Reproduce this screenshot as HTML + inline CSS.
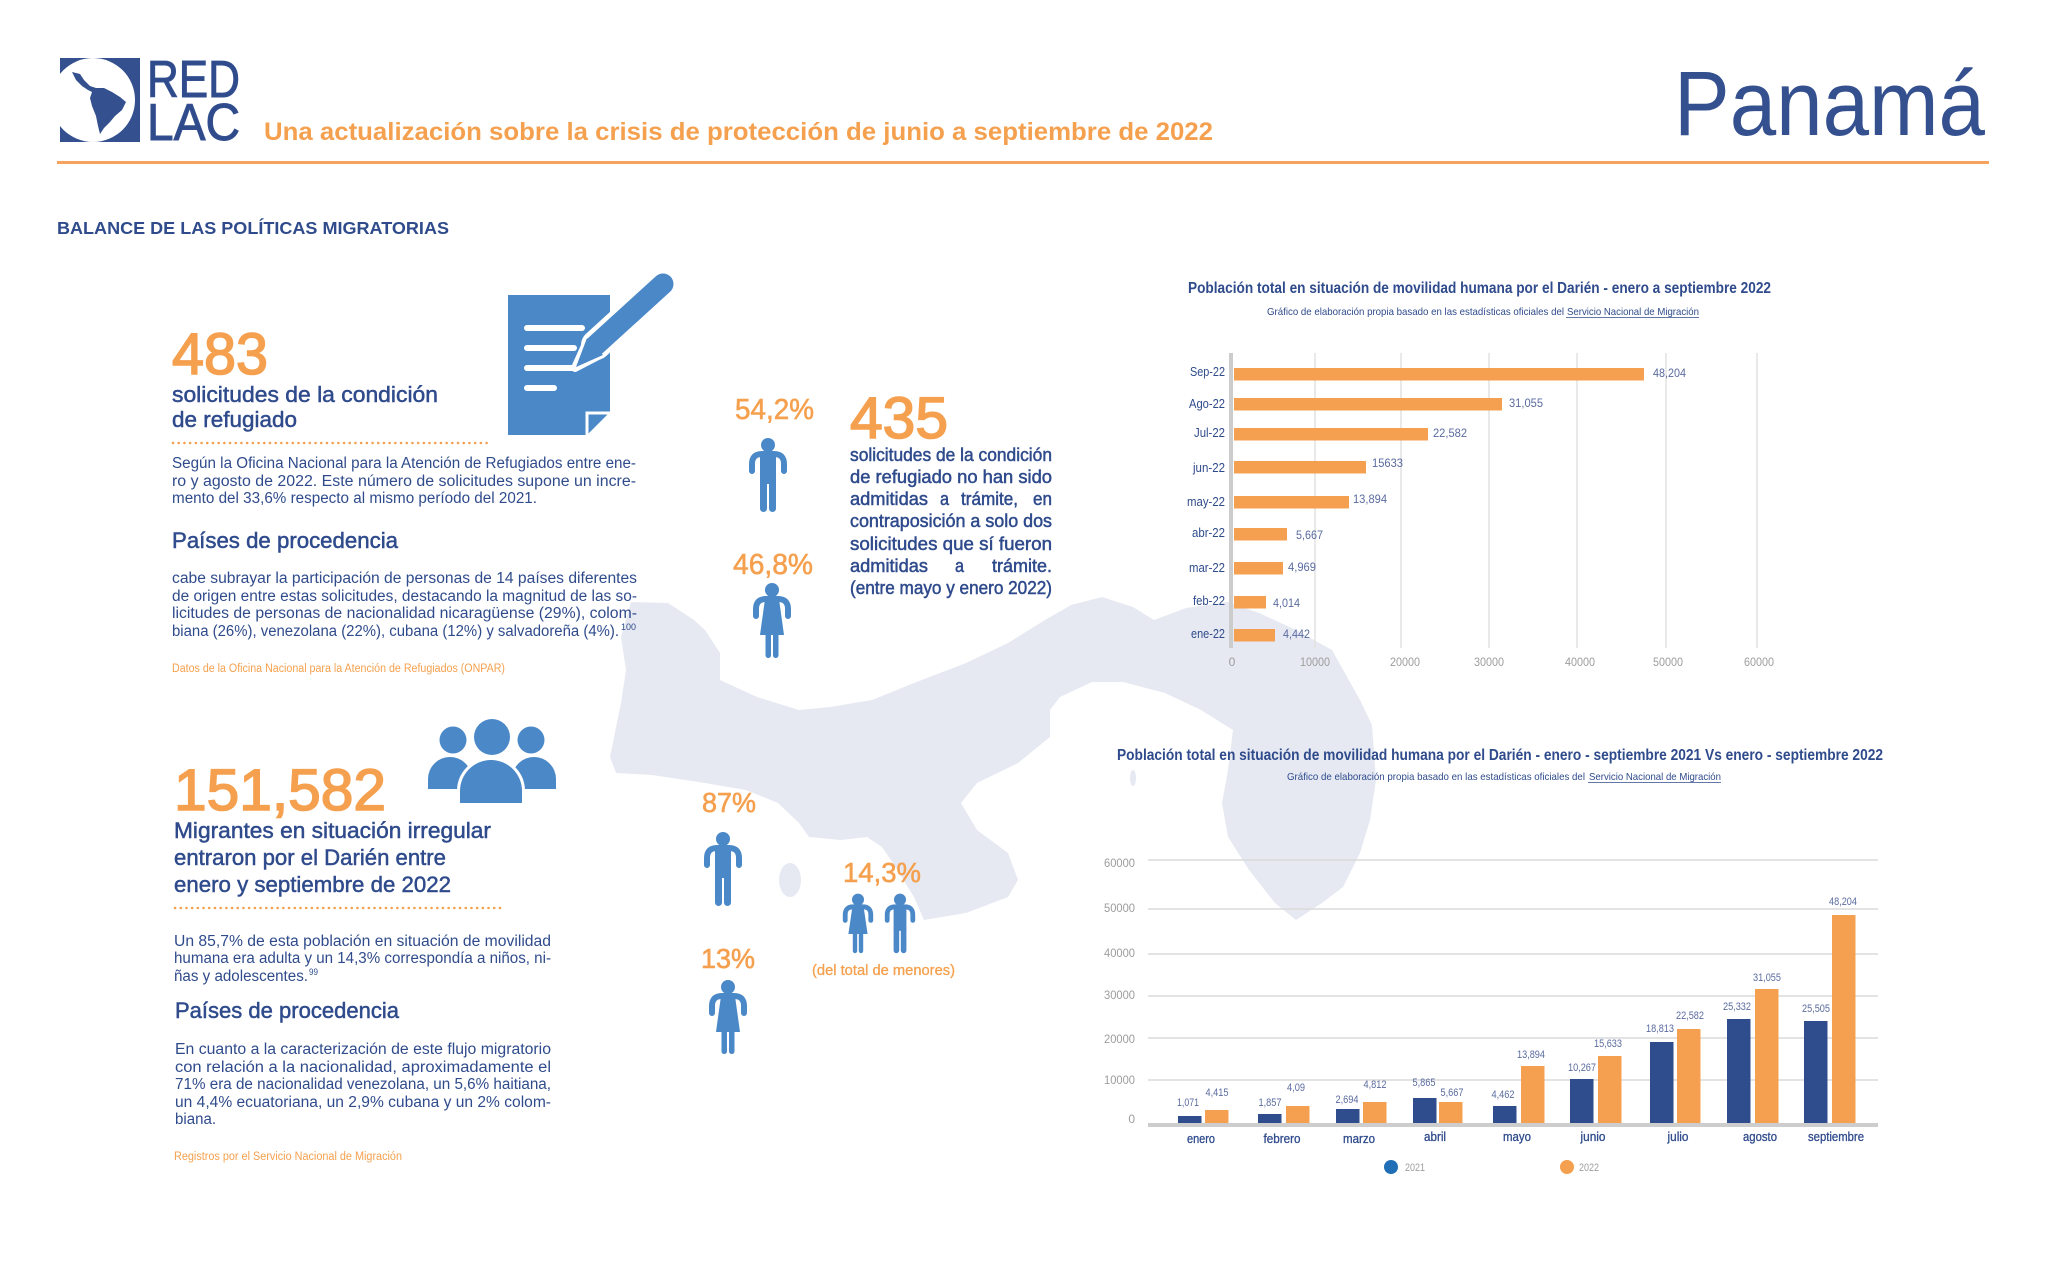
<!DOCTYPE html>
<html><head><meta charset="utf-8"><style>
html,body{margin:0;padding:0;background:#fff;}
svg{display:block}
text{font-family:"Liberation Sans",sans-serif;}
.b{fill:#2f4b8c}
.bm{fill:#2f4b8c;stroke:#2f4b8c;stroke-width:.5}
.o{fill:#f5a04e}
.op{fill:#f5a04e;stroke:#f5a04e;stroke-width:.6}
.om{fill:#f5a04e;stroke:#f5a04e;stroke-width:1.6}
.v{fill:#5a6b9f}
.g{fill:#9d9d9d}
.ic{fill:#4a88c8}
</style></head><body>
<svg width="2048" height="1274" viewBox="0 0 2048 1274" xmlns="http://www.w3.org/2000/svg">
<rect width="2048" height="1274" fill="#fff"/>

<!-- Map silhouette -->
<path fill="#e6e9f2" d="M631,602 L668,603 L694,620 L705,630 L720,653 L720,680 L757,697 L799,710 L830,707 L872,700 L914,683 L966,663 L1008,643 L1045,620 L1071,605 L1102,597 L1133,607 L1154,620 L1186,608 L1228,602 L1259,613 L1296,630 L1332,650 L1360,700 L1372,725 L1376,780 L1370,820 L1360,853 L1343,887 L1322,903 L1296,920 L1275,903 L1249,870 L1228,837 L1222,803 L1228,770 L1233,730 L1201,710 L1165,693 L1123,682 L1092,682 L1060,697 L1050,710 L1050,737 L1018,763 L977,783 L961,803 L977,830 L1008,853 L1018,880 L1008,897 L966,913 L924,920 L914,897 L893,863 L882,847 L867,837 L841,840 L809,837 L799,823 L778,803 L746,790 L705,783 L652,775 L616,773 L610,757 L621,703 L626,670 L621,637 Z"/>
<ellipse cx="790" cy="880" rx="11" ry="17" fill="#e6e9f2"/>
<ellipse cx="1133" cy="778" rx="3" ry="8" fill="#e6e9f2"/>

<!-- Header -->
<rect x="60" y="58" width="80" height="84" fill="#34508f"/>
<circle cx="93" cy="100" r="42" fill="#fff"/>
<rect x="40" y="40" width="17" height="110" fill="#fff"/>
<path fill="#34508f" d="M72,72 L80,74 L84,80 L90,86 L96,88 L104,88 L112,92 L120,97 L126,102 L122,110 L115,116 L110,122 L104,128 L100,134 L98,126 L96,116 L92,106 L90,98 L92,92 L88,90 L82,86 L76,80 Z"/>
<text x="147" y="97" font-size="52" textLength="93" lengthAdjust="spacingAndGlyphs" class="b" style="stroke:#34508f;stroke-width:1">RED</text>
<text x="147" y="140" font-size="52" textLength="93" lengthAdjust="spacingAndGlyphs" class="b" style="stroke:#34508f;stroke-width:1">LAC</text>
<text x="264" y="140" font-size="25" font-weight="bold" textLength="949" lengthAdjust="spacingAndGlyphs" class="o">Una actualización sobre la crisis de protección de junio a septiembre de 2022</text>
<text x="1674" y="135" font-size="92" textLength="311" lengthAdjust="spacingAndGlyphs" fill="#34508f">Panamá</text>
<rect x="57" y="161" width="1932" height="3" fill="#f6a35f"/>
<text x="57" y="234" font-size="17.5" font-weight="bold" textLength="392" lengthAdjust="spacingAndGlyphs" class="b">BALANCE DE LAS POLÍTICAS MIGRATORIAS</text>

<!-- Block 1 -->
<text x="172" y="374" font-size="58" textLength="96" lengthAdjust="spacingAndGlyphs" class="om">483</text>
<text x="172" y="402" font-size="22" textLength="266" lengthAdjust="spacingAndGlyphs" class="bm">solicitudes de la condición</text>
<text x="172" y="427" font-size="22" textLength="125" lengthAdjust="spacingAndGlyphs" class="bm">de refugiado</text>
<line x1="173" y1="443" x2="490" y2="443" stroke="#f5a04e" stroke-width="2.5" stroke-dasharray="0.1 5.6" stroke-linecap="round"/>
<text x="172" y="468" font-size="15.5" textLength="464" lengthAdjust="spacingAndGlyphs" class="b">Según la Oficina Nacional para la Atención de Refugiados entre ene-</text>
<text x="172" y="486" font-size="15.5" textLength="464" lengthAdjust="spacingAndGlyphs" class="b">ro y agosto de 2022. Este número de solicitudes supone un incre-</text>
<text x="172" y="503" font-size="15.5" textLength="365" lengthAdjust="spacingAndGlyphs" class="b">mento del 33,6% respecto al mismo período del 2021.</text>
<text x="172" y="548" font-size="22" textLength="226" lengthAdjust="spacingAndGlyphs" class="bm">Países de procedencia</text>
<text x="172" y="583" font-size="15.5" textLength="465" lengthAdjust="spacingAndGlyphs" class="b">cabe subrayar la participación de personas de 14 países diferentes</text>
<text x="172" y="601" font-size="15.5" textLength="465" lengthAdjust="spacingAndGlyphs" class="b">de origen entre estas solicitudes, destacando la magnitud de las so-</text>
<text x="172" y="618" font-size="15.5" textLength="465" lengthAdjust="spacingAndGlyphs" class="b">licitudes de personas de nacionalidad nicaragüense (29%), colom-</text>
<text x="172" y="636" font-size="15.5" textLength="447" lengthAdjust="spacingAndGlyphs" class="b">biana (26%), venezolana (22%), cubana (12%) y salvadoreña (4%).</text>
<text x="621" y="630" font-size="9" textLength="15" lengthAdjust="spacingAndGlyphs" class="b">100</text>
<text x="172" y="672" font-size="11.5" textLength="333" lengthAdjust="spacingAndGlyphs" class="o">Datos de la Oficina Nacional para la Atención de Refugiados (ONPAR)</text>

<!-- Document icon -->
<path class="ic" d="M508,295 H610 V412 L587,435 H508 Z"/>
<path d="M587,436 V413 H611" fill="none" stroke="#fff" stroke-width="3"/>
<g stroke="#fff" stroke-width="6" stroke-linecap="round">
<line x1="527" y1="328" x2="582" y2="328"/>
<line x1="527" y1="348" x2="574" y2="348"/>
<line x1="527" y1="368" x2="572" y2="368"/>
<line x1="527" y1="388" x2="554" y2="388"/>
</g>
<line x1="596" y1="345" x2="663" y2="284" stroke="#fff" stroke-width="30" stroke-linecap="round"/>
<polygon points="602,354 588,339 575,368" fill="#fff" stroke="#fff" stroke-width="8" stroke-linejoin="round"/>
<line x1="596" y1="345" x2="663" y2="284" stroke="#4a88c8" stroke-width="21" stroke-linecap="round"/>
<polygon points="603,355 587,338 576,367" fill="#4a88c8"/>

<!-- Middle upper -->
<text x="735" y="419" font-size="29" textLength="79" lengthAdjust="spacingAndGlyphs" class="op">54,2%</text>
<text x="733" y="574" font-size="29" textLength="80" lengthAdjust="spacingAndGlyphs" class="op">46,8%</text>
<text x="850" y="438" font-size="58" textLength="98" lengthAdjust="spacingAndGlyphs" class="om">435</text>
<text x="850" y="461" font-size="18" textLength="202" lengthAdjust="spacingAndGlyphs" class="bm">solicitudes de la condición</text>
<text x="850" y="483" font-size="18" textLength="202" lengthAdjust="spacingAndGlyphs" class="bm">de refugiado no han sido</text>
<text x="850" y="505" font-size="18" textLength="78" lengthAdjust="spacingAndGlyphs" class="bm">admitidas</text>
<text x="940" y="505" font-size="18" textLength="9" lengthAdjust="spacingAndGlyphs" class="bm">a</text>
<text x="961" y="505" font-size="18" textLength="57" lengthAdjust="spacingAndGlyphs" class="bm">trámite,</text>
<text x="1033" y="505" font-size="18" textLength="19" lengthAdjust="spacingAndGlyphs" class="bm">en</text>
<text x="850" y="527" font-size="18" textLength="202" lengthAdjust="spacingAndGlyphs" class="bm">contraposición a solo dos</text>
<text x="850" y="550" font-size="18" textLength="202" lengthAdjust="spacingAndGlyphs" class="bm">solicitudes que sí fueron</text>
<text x="850" y="572" font-size="18" textLength="78" lengthAdjust="spacingAndGlyphs" class="bm">admitidas</text>
<text x="955" y="572" font-size="18" textLength="9" lengthAdjust="spacingAndGlyphs" class="bm">a</text>
<text x="992" y="572" font-size="18" textLength="60" lengthAdjust="spacingAndGlyphs" class="bm">trámite.</text>
<text x="850" y="594" font-size="18" textLength="202" lengthAdjust="spacingAndGlyphs" class="bm">(entre mayo y enero 2022)</text>

<!-- Man icon 1 -->
<g transform="translate(748,438)" class="ic">
<circle cx="20" cy="7" r="7"/>
<path d="M4,33 V26 Q4,16 14,16 H26 Q36,16 36,26 V33" fill="none" stroke="#4a88c8" stroke-width="6" stroke-linecap="round"/>
<rect x="12" y="16" width="16" height="30"/>
<rect x="12" y="40" width="7" height="34" rx="3.5"/>
<rect x="21" y="40" width="7" height="34" rx="3.5"/>
</g>
<!-- Woman icon 1 -->
<g transform="translate(752,583)" class="ic">
<circle cx="20" cy="7" r="7"/>
<path d="M4,33 V26 Q4,16 14,16 H26 Q36,16 36,26 V33" fill="none" stroke="#4a88c8" stroke-width="6" stroke-linecap="round"/>
<path d="M13,16 H27 L32,52 H8 Z"/>
<rect x="13.5" y="48" width="5.5" height="27" rx="2.75"/>
<rect x="21" y="48" width="5.5" height="27" rx="2.75"/>
</g>

<!-- Lower left block -->
<text x="174" y="810" font-size="58" textLength="212" lengthAdjust="spacingAndGlyphs" class="om">151,582</text>
<text x="174" y="838" font-size="22.5" textLength="317" lengthAdjust="spacingAndGlyphs" class="bm">Migrantes en situación irregular</text>
<text x="174" y="865" font-size="22.5" textLength="272" lengthAdjust="spacingAndGlyphs" class="bm">entraron por el Darién entre</text>
<text x="174" y="892" font-size="22.5" textLength="277" lengthAdjust="spacingAndGlyphs" class="bm">enero y septiembre de 2022</text>
<line x1="175" y1="908" x2="502" y2="908" stroke="#f5a04e" stroke-width="2.5" stroke-dasharray="0.1 5.6" stroke-linecap="round"/>
<text x="174" y="946" font-size="15.5" textLength="377" lengthAdjust="spacingAndGlyphs" class="b">Un 85,7% de esta población en situación de movilidad</text>
<text x="174" y="963" font-size="15.5" textLength="377" lengthAdjust="spacingAndGlyphs" class="b">humana era adulta y un 14,3% correspondía a niños, ni-</text>
<text x="174" y="981" font-size="15.5" textLength="134" lengthAdjust="spacingAndGlyphs" class="b">ñas y adolescentes.</text>
<text x="309" y="975" font-size="9" textLength="9" lengthAdjust="spacingAndGlyphs" class="b">99</text>
<text x="175" y="1018" font-size="22" textLength="224" lengthAdjust="spacingAndGlyphs" class="bm">Países de procedencia</text>
<text x="175" y="1054" font-size="15.5" textLength="376" lengthAdjust="spacingAndGlyphs" class="b">En cuanto a la caracterización de este flujo migratorio</text>
<text x="175" y="1072" font-size="15.5" textLength="376" lengthAdjust="spacingAndGlyphs" class="b">con relación a la nacionalidad, aproximadamente el</text>
<text x="175" y="1089" font-size="15.5" textLength="376" lengthAdjust="spacingAndGlyphs" class="b">71% era de nacionalidad venezolana, un 5,6% haitiana,</text>
<text x="175" y="1107" font-size="15.5" textLength="376" lengthAdjust="spacingAndGlyphs" class="b">un 4,4% ecuatoriana, un 2,9% cubana y un 2% colom-</text>
<text x="175" y="1124" font-size="15.5" textLength="41" lengthAdjust="spacingAndGlyphs" class="b">biana.</text>
<text x="174" y="1160" font-size="11.5" textLength="228" lengthAdjust="spacingAndGlyphs" class="o">Registros por el Servicio Nacional de Migración</text>

<!-- People icon -->
<g class="ic">
<path d="M428,789 V779 A22,22 0 0 1 472,779 V789 Z"/>
<path d="M512,789 V779 A22,22 0 0 1 556,779 V789 Z"/>
<path d="M460,803 V791 A31,31 0 0 1 522,791 V803 Z" stroke="#fff" stroke-width="6" paint-order="stroke"/>
<circle cx="453" cy="740" r="13.5"/>
<circle cx="531" cy="740" r="13.5"/>
<circle cx="492" cy="737" r="18"/>
</g>

<!-- Middle lower -->
<text x="702" y="812" font-size="28" textLength="54" lengthAdjust="spacingAndGlyphs" class="op">87%</text>
<text x="701" y="968" font-size="28" textLength="54" lengthAdjust="spacingAndGlyphs" class="op">13%</text>
<text x="843" y="882" font-size="28" textLength="78" lengthAdjust="spacingAndGlyphs" class="op">14,3%</text>
<text x="812" y="975" font-size="15" textLength="143" lengthAdjust="spacingAndGlyphs" class="op" style="stroke-width:.3">(del total de menores)</text>

<g transform="translate(703,832)" class="ic">
<circle cx="20" cy="7" r="7"/>
<path d="M4,33 V26 Q4,16 14,16 H26 Q36,16 36,26 V33" fill="none" stroke="#4a88c8" stroke-width="6" stroke-linecap="round"/>
<rect x="12" y="16" width="16" height="30"/>
<rect x="12" y="40" width="7" height="34" rx="3.5"/>
<rect x="21" y="40" width="7" height="34" rx="3.5"/>
</g>
<g transform="translate(708,980)" class="ic">
<circle cx="20" cy="7" r="7"/>
<path d="M4,33 V26 Q4,16 14,16 H26 Q36,16 36,26 V33" fill="none" stroke="#4a88c8" stroke-width="6" stroke-linecap="round"/>
<path d="M13,16 H27 L32,52 H8 Z"/>
<rect x="13.5" y="48" width="5.5" height="26" rx="2.75"/>
<rect x="21" y="48" width="5.5" height="26" rx="2.75"/>
</g>
<g transform="translate(842,894) scale(0.8)" class="ic">
<circle cx="20" cy="7" r="7.5"/>
<path d="M4,33 V26 Q4,16 14,16 H26 Q36,16 36,26 V33" fill="none" stroke="#4a88c8" stroke-width="6" stroke-linecap="round"/>
<path d="M13,16 H27 L32,50 H8 Z"/>
<rect x="13.5" y="46" width="5.5" height="28" rx="2.75"/>
<rect x="21" y="46" width="5.5" height="28" rx="2.75"/>
</g>
<g transform="translate(884,894) scale(0.8)" class="ic">
<circle cx="20" cy="7" r="7.5"/>
<path d="M4,33 V26 Q4,16 14,16 H26 Q36,16 36,26 V33" fill="none" stroke="#4a88c8" stroke-width="6" stroke-linecap="round"/>
<rect x="12" y="16" width="16" height="30"/>
<rect x="12" y="40" width="7" height="34" rx="3.5"/>
<rect x="21" y="40" width="7" height="34" rx="3.5"/>
</g>

<!-- Chart 1 -->
<text x="1188" y="293" font-size="15.5" font-weight="bold" textLength="583" lengthAdjust="spacingAndGlyphs" class="b">Población total en situación de movilidad humana por el Darién - enero a septiembre 2022</text>
<text x="1267" y="315" font-size="10.5" textLength="297" lengthAdjust="spacingAndGlyphs" class="b">Gráfico de elaboración propia basado en las estadísticas oficiales del</text>
<text x="1567" y="315" font-size="10.5" textLength="132" lengthAdjust="spacingAndGlyphs" class="b">Servicio Nacional de Migración</text>
<line x1="1566" y1="317.5" x2="1699" y2="317.5" stroke="#2f4b8c" stroke-width=".8"/>
<g stroke="#e2e2e2" stroke-width="1.5">
<line x1="1315" y1="353" x2="1315" y2="648"/>
<line x1="1401" y1="353" x2="1401" y2="648"/>
<line x1="1489" y1="353" x2="1489" y2="648"/>
<line x1="1577" y1="353" x2="1577" y2="648"/>
<line x1="1666" y1="353" x2="1666" y2="648"/>
<line x1="1757" y1="353" x2="1757" y2="648"/>
</g>
<line x1="1231" y1="353" x2="1231" y2="648" stroke="#cccccc" stroke-width="4"/>
<g fill="#f4a050">
<rect x="1234" y="368" width="410" height="12.5"/>
<rect x="1234" y="398" width="268" height="12.5"/>
<rect x="1234" y="428" width="194" height="12.5"/>
<rect x="1234" y="461" width="132" height="12.5"/>
<rect x="1234" y="496" width="115" height="12.5"/>
<rect x="1234" y="528" width="53" height="12.5"/>
<rect x="1234" y="562" width="49" height="12.5"/>
<rect x="1234" y="596" width="32" height="12.5"/>
<rect x="1234" y="629" width="41" height="12.5"/>
</g>
<g font-size="12.5" text-anchor="end" class="b">
<text x="1225" y="376" textLength="35" lengthAdjust="spacingAndGlyphs">Sep-22</text>
<text x="1225" y="408" textLength="36" lengthAdjust="spacingAndGlyphs">Ago-22</text>
<text x="1225" y="437" textLength="31" lengthAdjust="spacingAndGlyphs">Jul-22</text>
<text x="1225" y="472" textLength="32" lengthAdjust="spacingAndGlyphs">jun-22</text>
<text x="1225" y="506" textLength="38" lengthAdjust="spacingAndGlyphs">may-22</text>
<text x="1225" y="537" textLength="33" lengthAdjust="spacingAndGlyphs">abr-22</text>
<text x="1225" y="572" textLength="36" lengthAdjust="spacingAndGlyphs">mar-22</text>
<text x="1225" y="605" textLength="32" lengthAdjust="spacingAndGlyphs">feb-22</text>
<text x="1225" y="638" textLength="34" lengthAdjust="spacingAndGlyphs">ene-22</text>
</g>
<g font-size="12" class="v">
<text x="1653" y="377" textLength="33" lengthAdjust="spacingAndGlyphs">48,204</text>
<text x="1509" y="407" textLength="34" lengthAdjust="spacingAndGlyphs">31,055</text>
<text x="1433" y="437" textLength="34" lengthAdjust="spacingAndGlyphs">22,582</text>
<text x="1372" y="467" textLength="31" lengthAdjust="spacingAndGlyphs">15633</text>
<text x="1353" y="503" textLength="34" lengthAdjust="spacingAndGlyphs">13,894</text>
<text x="1296" y="539" textLength="27" lengthAdjust="spacingAndGlyphs">5,667</text>
<text x="1288" y="571" textLength="28" lengthAdjust="spacingAndGlyphs">4,969</text>
<text x="1273" y="607" textLength="27" lengthAdjust="spacingAndGlyphs">4,014</text>
<text x="1283" y="638" textLength="27" lengthAdjust="spacingAndGlyphs">4,442</text>
</g>
<g font-size="12" text-anchor="middle" class="g">
<text x="1232" y="666">0</text>
<text x="1315" y="666" textLength="30" lengthAdjust="spacingAndGlyphs">10000</text>
<text x="1405" y="666" textLength="30" lengthAdjust="spacingAndGlyphs">20000</text>
<text x="1489" y="666" textLength="30" lengthAdjust="spacingAndGlyphs">30000</text>
<text x="1580" y="666" textLength="30" lengthAdjust="spacingAndGlyphs">40000</text>
<text x="1668" y="666" textLength="30" lengthAdjust="spacingAndGlyphs">50000</text>
<text x="1759" y="666" textLength="30" lengthAdjust="spacingAndGlyphs">60000</text>
</g>

<!-- Chart 2 -->
<text x="1117" y="760" font-size="15.5" font-weight="bold" textLength="766" lengthAdjust="spacingAndGlyphs" class="b">Población total en situación de movilidad humana por el Darién - enero - septiembre 2021 Vs enero - septiembre 2022</text>
<text x="1287" y="780" font-size="10.5" textLength="298" lengthAdjust="spacingAndGlyphs" class="b">Gráfico de elaboración propia basado en las estadísticas oficiales del</text>
<text x="1589" y="780" font-size="10.5" textLength="132" lengthAdjust="spacingAndGlyphs" class="b">Servicio Nacional de Migración</text>
<line x1="1588" y1="782.5" x2="1721" y2="782.5" stroke="#2f4b8c" stroke-width=".8"/>
<g stroke="#dadada" stroke-width="1.5">
<line x1="1148" y1="860" x2="1878" y2="860"/>
<line x1="1148" y1="909" x2="1878" y2="909"/>
<line x1="1148" y1="954" x2="1878" y2="954"/>
<line x1="1148" y1="996" x2="1878" y2="996"/>
<line x1="1148" y1="1038" x2="1878" y2="1038"/>
<line x1="1148" y1="1080" x2="1878" y2="1080"/>
</g>
<g font-size="12" text-anchor="end" class="g">
<text x="1135" y="867" textLength="31" lengthAdjust="spacingAndGlyphs">60000</text>
<text x="1135" y="912" textLength="31" lengthAdjust="spacingAndGlyphs">50000</text>
<text x="1135" y="957" textLength="31" lengthAdjust="spacingAndGlyphs">40000</text>
<text x="1135" y="999" textLength="31" lengthAdjust="spacingAndGlyphs">30000</text>
<text x="1135" y="1043" textLength="31" lengthAdjust="spacingAndGlyphs">20000</text>
<text x="1135" y="1084" textLength="31" lengthAdjust="spacingAndGlyphs">10000</text>
<text x="1135" y="1123">0</text>
</g>
<g fill="#2f4d8c">
<rect x="1178" y="1116" width="23.5" height="8"/>
<rect x="1258" y="1114" width="23.5" height="10"/>
<rect x="1336" y="1109" width="23.5" height="15"/>
<rect x="1413" y="1098" width="23.5" height="26"/>
<rect x="1493" y="1106" width="23.5" height="18"/>
<rect x="1570" y="1079" width="23.5" height="45"/>
<rect x="1650" y="1042" width="23.5" height="82"/>
<rect x="1727" y="1019" width="23.5" height="105"/>
<rect x="1804" y="1021" width="23.5" height="103"/>
</g>
<g fill="#f4a050">
<rect x="1205" y="1110" width="23.5" height="14"/>
<rect x="1286" y="1106" width="23.5" height="18"/>
<rect x="1363" y="1102" width="23.5" height="22"/>
<rect x="1439" y="1102" width="23.5" height="22"/>
<rect x="1521" y="1066" width="23.5" height="58"/>
<rect x="1598" y="1056" width="23.5" height="68"/>
<rect x="1677" y="1029" width="23.5" height="95"/>
<rect x="1755" y="989" width="23.5" height="135"/>
<rect x="1832" y="915" width="23.5" height="209"/>
</g>
<line x1="1148" y1="1125" x2="1878" y2="1125" stroke="#cdcdcd" stroke-width="4"/>
<g font-size="11" text-anchor="middle" class="v">
<text x="1188" y="1106" textLength="22" lengthAdjust="spacingAndGlyphs">1,071</text>
<text x="1217" y="1096" textLength="23" lengthAdjust="spacingAndGlyphs">4,415</text>
<text x="1270" y="1106" textLength="23" lengthAdjust="spacingAndGlyphs">1,857</text>
<text x="1296" y="1091" textLength="18" lengthAdjust="spacingAndGlyphs">4,09</text>
<text x="1347" y="1103" textLength="23" lengthAdjust="spacingAndGlyphs">2,694</text>
<text x="1375" y="1088" textLength="23" lengthAdjust="spacingAndGlyphs">4,812</text>
<text x="1424" y="1086" textLength="23" lengthAdjust="spacingAndGlyphs">5,865</text>
<text x="1452" y="1096" textLength="23" lengthAdjust="spacingAndGlyphs">5,667</text>
<text x="1503" y="1098" textLength="23" lengthAdjust="spacingAndGlyphs">4,462</text>
<text x="1531" y="1058" textLength="28" lengthAdjust="spacingAndGlyphs">13,894</text>
<text x="1582" y="1071" textLength="28" lengthAdjust="spacingAndGlyphs">10,267</text>
<text x="1608" y="1047" textLength="28" lengthAdjust="spacingAndGlyphs">15,633</text>
<text x="1660" y="1032" textLength="28" lengthAdjust="spacingAndGlyphs">18,813</text>
<text x="1690" y="1019" textLength="28" lengthAdjust="spacingAndGlyphs">22,582</text>
<text x="1737" y="1010" textLength="28" lengthAdjust="spacingAndGlyphs">25,332</text>
<text x="1767" y="981" textLength="28" lengthAdjust="spacingAndGlyphs">31,055</text>
<text x="1816" y="1012" textLength="28" lengthAdjust="spacingAndGlyphs">25,505</text>
<text x="1843" y="905" textLength="28" lengthAdjust="spacingAndGlyphs">48,204</text>
</g>
<g font-size="13" text-anchor="middle" class="bm" style="stroke-width:.3">
<text x="1201" y="1143" textLength="28" lengthAdjust="spacingAndGlyphs">enero</text>
<text x="1282" y="1143" textLength="37" lengthAdjust="spacingAndGlyphs">febrero</text>
<text x="1359" y="1143" textLength="32" lengthAdjust="spacingAndGlyphs">marzo</text>
<text x="1435" y="1141" textLength="22" lengthAdjust="spacingAndGlyphs">abril</text>
<text x="1517" y="1141" textLength="28" lengthAdjust="spacingAndGlyphs">mayo</text>
<text x="1593" y="1141" textLength="25" lengthAdjust="spacingAndGlyphs">junio</text>
<text x="1678" y="1141" textLength="21" lengthAdjust="spacingAndGlyphs">julio</text>
<text x="1760" y="1141" textLength="34" lengthAdjust="spacingAndGlyphs">agosto</text>
<text x="1836" y="1141" textLength="56" lengthAdjust="spacingAndGlyphs">septiembre</text>
</g>
<circle cx="1391" cy="1167" r="7" fill="#1f6eb6"/>
<text x="1405" y="1171" font-size="11" textLength="20" lengthAdjust="spacingAndGlyphs" class="g">2021</text>
<circle cx="1567" cy="1167" r="7" fill="#f5a04e"/>
<text x="1579" y="1171" font-size="11" textLength="20" lengthAdjust="spacingAndGlyphs" class="g">2022</text>
</svg>
</body></html>
